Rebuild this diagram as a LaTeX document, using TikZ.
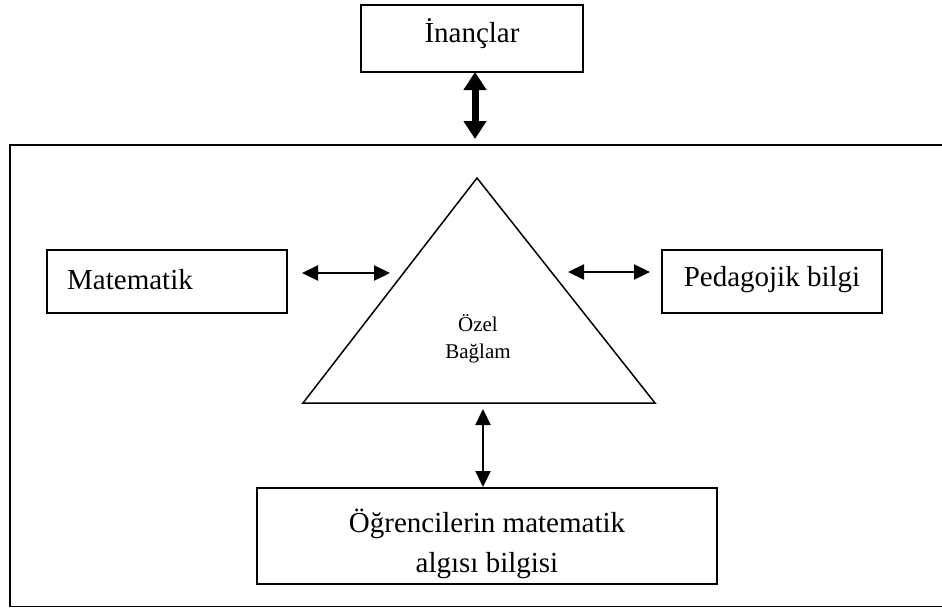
\documentclass[tikz,border=0pt]{standalone}
\usepackage{fontspec}
\setmainfont{Liberation Serif}
\usetikzlibrary{arrows.meta}
\begin{document}
\begin{tikzpicture}[x=1pt,y=-1pt,
  box/.style={draw, line width=1.6pt, inner sep=0pt},
  txt/.style={font=\fontsize{29}{40}\selectfont, align=center, inner sep=0pt},
  thin/.style={line width=2.2pt, {Triangle[width=15pt,length=16pt]}-{Triangle[width=15pt,length=16pt]}},
  thick/.style={line width=7pt, {Triangle[width=22pt,length=18pt]}-{Triangle[width=22pt,length=18pt]}}]
\useasboundingbox (0,0) rectangle (942,608);
\clip (0,0) rectangle (942,608);
% outer frame (right edge beyond picture)
\draw[line width=1.6pt] (10,145) -- (960,145) -- (960,606.5) -- (10,606.5) -- cycle;
% boxes
\node[box, minimum width=222pt, minimum height=67pt] (inan) at (472,38.5) {};
\node[txt] (inant) at (472,34) {İnançlar};
\node[box, minimum width=240pt, minimum height=63pt] (mat) at (167,281.5) {};
\node[txt, anchor=west] (matt) at (67,280) {Matematik};
\node[box, minimum width=220pt, minimum height=63pt] (ped) at (772,281.5) {};
\node[txt] (pedt) at (772,280) {Pedagojik bilgi};
\node[box, minimum width=460pt, minimum height=96pt] (ogr) at (487,536) {};
\node[txt] (ogrt) at (487,544) {Öğrencilerin matematik\\algısı bilgisi};
% triangle
\draw[line width=1.5pt] (477,178) coordinate (apex) -- (655,403) coordinate (br) -- (303,403) coordinate (bl) -- cycle;
\node[font=\fontsize{21}{27}\selectfont, align=center] (ozel) at (478,339) {Özel\\Bağlam};
% connector end points
\coordinate (t1) at (475,72);
\coordinate (t2) at (475,139);
\coordinate (l1) at (302,273);
\coordinate (l2) at (390,273);
\coordinate (r1) at (568,272);
\coordinate (r2) at (650,272);
\coordinate (b1) at (483,409);
\coordinate (b2) at (483,487);
\draw[thick] (t1) -- (t2);
\draw[thin] (l1) -- (l2);
\draw[thin] (r1) -- (r2);
\draw[thin] (b1) -- (b2);
\end{tikzpicture}
\end{document}
